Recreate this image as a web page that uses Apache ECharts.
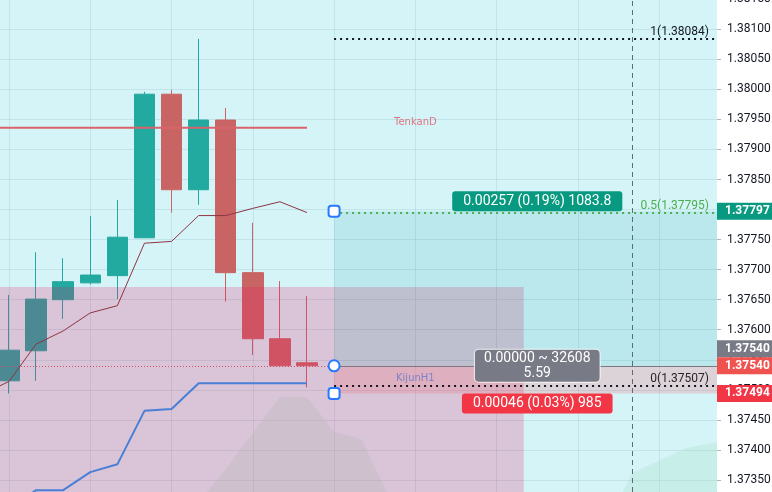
<!DOCTYPE html>
<html><head><meta charset="utf-8">
<script src="https://cdn.jsdelivr.net/npm/echarts@6/dist/echarts.min.js"></script>
<style>html,body{margin:0;padding:0;background:#fff}#c{width:772px;height:492px}</style>
</head><body><div id="c"></div>
<script>
// ---- data ----
const candleX = [0, 1, 2, 3, 4, 5, 6, 7, 8, 9, 10, 11];
const opens  = [1.37515, 1.37565, 1.37650, 1.37678, 1.37690, 1.37753, 1.37992, 1.37833, 1.37949, 1.37695, 1.37585, 1.37545];
const closes = [1.37566, 1.37651, 1.37680, 1.37691, 1.37754, 1.37992, 1.37833, 1.37949, 1.37695, 1.37585, 1.37540, 1.37540];
const lows   = [1.37494, 1.37515, 1.37618, 1.37675, 1.37651, 1.37753, 1.37795, 1.37808, 1.37647, 1.37558, 1.37540, 1.37504];
const highs  = [1.37658, 1.37729, 1.37719, 1.37789, 1.37816, 1.37996, 1.37999, 1.38084, 1.37969, 1.37778, 1.37681, 1.37656];

const tenkanX = [-1, 0, 1, 2, 3, 4, 5, 6, 7, 8, 9, 10, 11];
const tenkanY = [1.37492, 1.37514, 1.37576, 1.37598, 1.37628, 1.37640, 1.37744, 1.37747, 1.37790, 1.37790, 1.37802, 1.37813, 1.37795];
const kijunX = [0, 1, 2, 3, 4, 5, 6, 7, 8, 9, 10, 11];
const kijunY = [1.37303, 1.37333, 1.37333, 1.37363, 1.37376, 1.37465, 1.37468, 1.37511, 1.37511, 1.37511, 1.37511, 1.37511];
const levelX = [-1, 11];
const levelY = [1.37936, 1.37936];

const cloudBackX = [7, 8, 9, 10, 11, 12, 13, 14];
const cloudBackY = [1.37313, 1.37368, 1.37428, 1.37488, 1.37488, 1.37430, 1.37418, 1.37325];
const cloudFwdX = [22, 23, 24, 25, 26, 27];
const cloudFwdY = [1.37267, 1.37362, 1.37382, 1.37403, 1.37412, 1.37415];

const gridLineX = [0, 3, 6, 9, 12, 15, 18, 21, 24];
const xRange = [-0.332, 26.135];
const yRange = [1.37300, 1.38150];
const yInterval = 0.0005;

const entryPrice = 1.37540, targetPrice = 1.37797, stopPrice = 1.37494;
const toolStartX = 12;
const fibNames = ['1', '0.5', '0'];
const fibValues = [1.38084, 1.37795, 1.37507];
const fibLineColors = ['#131722', '#4caf50', '#131722'];
const fibTextColors = ['#131722', '#4caf50', '#2a2226'];
const rectRightX = 19, rectTop = 1.37671;
const dashedX = 23;
const toolLabelX = 19.5;
const profitText = '0.00257 (0.19%) 1083.8';
const statsText = '0.00000 ~ 32608\n5.59';
const lossText = '0.00046 (0.03%) 985';
const indicatorNames = ['TenkanD', 'KijunH1'];
const indicatorLabelX = 15;
const indicatorLabelY = [1.37936, 1.37511];
const axisPriceValues = [1.37797, 1.37540, 1.37540, 1.37494];
const axisPriceColors = ['#089981', '#787b86', '#ef5350', '#f23645'];

// ---- chart ----
const chart = echarts.init(document.getElementById('c'), null, {renderer: 'canvas'});
const FONT = 'Roboto, "Noto Sans", sans-serif';
const pairs = (xs, ys) => xs.map((x, i) => [x, ys[i]]);

const boxLabel = (bg, pos) => ({
  show: true, position: pos, distance: 0, color: '#fff', fontSize: 14, fontFamily: FONT,
  backgroundColor: bg, padding: [2, 11], lineHeight: 16, borderRadius: 3, align: 'center', opacity: 1
});

const option = {
  animation: false,
  backgroundColor: '#ffffff',
  textStyle: {fontFamily: FONT},
  grid: {left: 0, right: 55, top: -0.75, bottom: -18, show: true, backgroundColor: '#d5f4f7', borderWidth: 0, containLabel: false, outerBoundsMode: 'none'},
  xAxis: {type: 'value', min: xRange[0], max: xRange[1], show: false, splitLine: {show: false}, axisTick: {show: false}, axisLabel: {show: false}, axisLine: {show: false, onZero: false}},
  yAxis: {
    type: 'value', position: 'right', min: yRange[0], max: yRange[1], interval: yInterval,
    axisLine: {show: false, onZero: false},
    axisTick: {show: true, length: 4, lineStyle: {color: '#b2b5be'}},
    axisLabel: {color: '#131722', fontSize: 12, fontFamily: FONT, margin: 10, formatter: v => v.toFixed(5)},
    splitLine: {show: true, lineStyle: {color: 'rgba(110,165,178,0.2)', width: 1}}
  },
  series: [
    { // vertical grid lines
      type: 'line', data: [], z: 1, silent: true,
      markLine: {silent: true, z: 1, symbol: 'none', label: {show: false},
        lineStyle: {color: 'rgba(110,165,178,0.2)', width: 1, type: 'solid'},
        data: gridLineX.map(x => ({xAxis: x}))}
    },
    {type: 'line', data: pairs(cloudBackX, cloudBackY), z: 1, silent: true, symbol: 'none',
      lineStyle: {width: 0}, areaStyle: {color: 'rgba(160,220,190,0.38)'}},
    {type: 'line', data: pairs(cloudFwdX, cloudFwdY), z: 1, silent: true, symbol: 'none',
      lineStyle: {width: 0}, areaStyle: {color: 'rgba(160,220,190,0.38)'}},
    {
      type: 'candlestick', z: 2, barWidth: 21,
      data: candleX.map((x, i) => [x, opens[i], closes[i], lows[i], highs[i]]),
      encode: {x: 0, y: [1, 2, 3, 4]},
      itemStyle: {color: '#22a9a0', color0: '#c96464', borderColor: '#22a9a0', borderColor0: '#c96464', borderWidth: 1}
    },
    { // pink rectangle + position zones
      type: 'line', data: [], z: 3, silent: true,
      markArea: {silent: true, z: 3, data: [
        [{coord: [xRange[0], rectTop], itemStyle: {color: 'rgba(230,24,100,0.21)'}}, {coord: [rectRightX, yRange[0]]}],
        [{coord: [toolStartX, entryPrice], itemStyle: {color: 'rgba(0,150,160,0.12)'}}, {coord: [xRange[1], targetPrice]}],
        [{coord: [toolStartX, stopPrice], itemStyle: {color: 'rgba(240,110,120,0.25)'}}, {coord: [xRange[1], entryPrice]}]
      ]}
    },
    {type: 'line', data: pairs(levelX, levelY), z: 4, symbol: 'none', silent: true, lineStyle: {color: '#d9636b', width: 2}},
    {type: 'line', data: pairs(tenkanX, tenkanY), z: 4, symbol: 'none', silent: true, lineStyle: {color: '#8e3443', width: 1}},
    {type: 'line', data: pairs(kijunX, kijunY), z: 4, symbol: 'none', silent: true, lineStyle: {color: '#4a7fd6', width: 2}},
    { // price lines, fib levels, dashed vertical
      type: 'line', data: [], z: 5, silent: true,
      markLine: {silent: true, z: 5, symbol: 'none', data: [
        [{coord: [xRange[0], entryPrice], lineStyle: {color: '#d0506a', width: 1, type: [1, 2]}, label: {show: false}}, {coord: [toolStartX, entryPrice]}],
        [{coord: [toolStartX, entryPrice], lineStyle: {color: '#787b86', width: 1, type: 'solid'}, label: {show: false}}, {coord: [xRange[1], entryPrice]}],
        ...fibValues.map((v, i) => [
          {coord: [toolStartX, v], lineStyle: {color: fibLineColors[i], width: 2, type: [2, 4]},
           label: {show: true, position: 'insideEndTop', distance: [8, 1], color: fibTextColors[i], fontSize: 12, fontFamily: FONT,
             formatter: fibNames[i] + '(' + v.toFixed(5) + ')'}},
          {coord: [xRange[1], v]}
        ]),
        {xAxis: dashedX, lineStyle: {color: '#5d6b78', width: 1, type: [5, 4]}, label: {show: false}}
      ]}
    },
    { // indicator name labels
      type: 'scatter', z: 6, silent: true, symbolSize: 0, clip: false, itemStyle: {opacity: 1},
      data: indicatorNames.map((n, i) => ({value: [indicatorLabelX, indicatorLabelY[i]], name: n,
        label: {show: true, position: 'top', distance: 0, formatter: n, fontSize: 10, fontFamily: 'Tahoma, "DejaVu Sans", sans-serif',
          color: i === 0 ? '#e07582' : '#7f83c6'}}))
    },
    { // position tool labels
      type: 'scatter', z: 7, silent: true, symbolSize: 0, clip: false, itemStyle: {opacity: 1},
      data: [
        {value: [toolLabelX, targetPrice], label: Object.assign(boxLabel('#089981', 'top'), {formatter: profitText})},
        {value: [toolLabelX, entryPrice], label: Object.assign(boxLabel('#787b86', 'inside'), {formatter: statsText, lineHeight: 15, padding: [1, 9], borderColor: 'rgba(255,255,255,0.8)', borderWidth: 1, borderRadius: 4})},
        {value: [toolLabelX, stopPrice], label: Object.assign(boxLabel('#f23645', 'bottom'), {formatter: lossText})}
      ]
    },
    { // handles
      type: 'scatter', z: 8, silent: true, clip: false, symbolSize: 11,
      itemStyle: {color: '#ffffff', borderColor: '#2979ff', borderWidth: 2, opacity: 1},
      data: [
        {value: [toolStartX, targetPrice], symbol: 'roundRect'},
        {value: [toolStartX, entryPrice], symbol: 'circle'},
        {value: [toolStartX, stopPrice], symbol: 'roundRect'}
      ]
    },
    { // axis price labels
      type: 'scatter', z: 9, silent: true, clip: false, symbolSize: 0, itemStyle: {opacity: 1},
      data: axisPriceValues.map((v, i) => ({value: [xRange[1], v],
        label: {show: true, position: 'right', distance: 0, offset: i === 1 ? [0, -17] : [0, 0], opacity: 1,
          formatter: v.toFixed(5), color: '#fff', fontWeight: 'bold', fontSize: 12, fontFamily: FONT,
          backgroundColor: axisPriceColors[i], padding: [3, 2, 2, 8], width: 45, lineHeight: 12, align: 'left'}}))
    }
  ]
};
chart.setOption(option);
</script>
</body></html>
